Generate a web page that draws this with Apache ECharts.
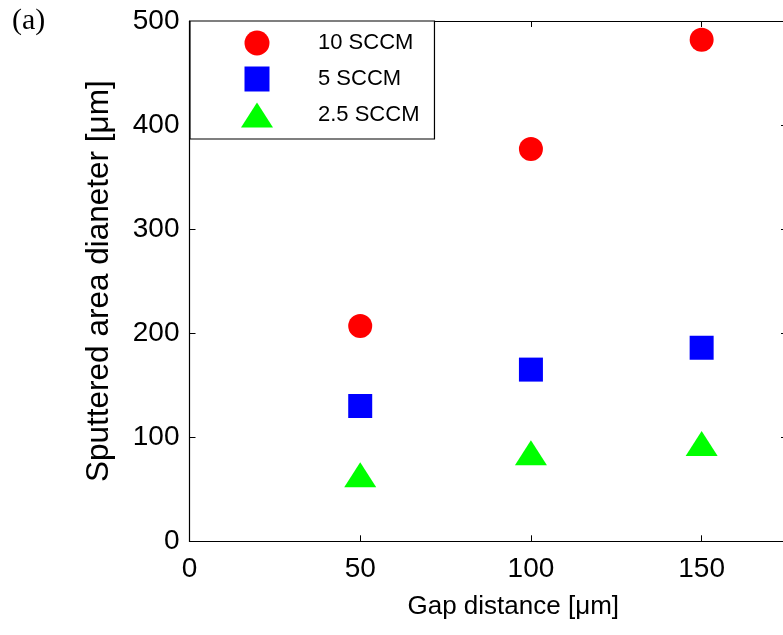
<!DOCTYPE html>
<html>
<head>
<meta charset="utf-8">
<script src="https://cdn.jsdelivr.net/npm/echarts@6/dist/echarts.min.js"></script>
<style>
  html, body { margin: 0; padding: 0; background: #fff; }
  #chart { width: 783px; height: 635px; }
</style>
</head>
<body>
<div id="chart"></div>
<script>
// Gap distance [μm] for each measurement
const gapDistance = [50, 100, 150];
// Sputtered area diameter [μm] per gas flow rate
const flow10 = [207, 377, 482];
const flow5 = [130, 165, 186];
const flow2p5 = [64, 85, 94];
const seriesNames = ['10 SCCM', '5 SCCM', '2.5 SCCM'];
const xTicks = [0, 50, 100, 150];
const yTicks = [0, 100, 200, 300, 400, 500];

const FONT = "'Liberation Sans', Arial, sans-serif";
const pairs = ys => gapDistance.map((x, i) => [x, ys[i]]);
const TRI = 'path://M16,0L32,25L0,25Z';
const SQUARE = 'path://M0,0L24,0L24,24L0,24Z';

const chart = echarts.init(document.getElementById('chart'), null, { renderer: 'canvas' });

const tickCommon = { show: true, inside: true, length: 6, lineStyle: { color: '#000', width: 1 } };
const lineCommon = { show: true, onZero: false, lineStyle: { color: '#000', width: 1.2 } };

chart.setOption({
  animation: false,
  backgroundColor: '#fff',
  grid: { left: 189.5, top: 21, width: 597.5, height: 520.3, containLabel: false, outerBoundsMode: 'none' },
  graphic: [{
    type: 'text', left: 12, top: 6,
    style: { text: '(a)', font: "30px 'Liberation Serif', 'Times New Roman', serif", fill: '#000' }
  }],
  legend: {
    orient: 'vertical',
    left: 190, top: 21,
    // icons sit centred in a wide slot; the left padding compensates for the empty part of the slot
    padding: [9.5, 15, 11.5, 51],
    itemWidth: 112, itemHeight: 25, itemGap: 11,
    symbolKeepAspect: true,
    backgroundColor: '#fff',
    borderColor: '#000', borderWidth: 1.2, borderRadius: 0,
    textStyle: { fontFamily: FONT, fontSize: 22, color: '#000', lineHeight: 25 },
    data: [
      { name: seriesNames[0], icon: 'circle' },
      { name: seriesNames[1], icon: SQUARE },
      { name: seriesNames[2], icon: TRI }
    ]
  },
  xAxis: [{
    type: 'value', position: 'bottom', min: 0, max: 175, interval: 50,
    axisLine: lineCommon, axisTick: tickCommon, splitLine: { show: false },
    axisLabel: {
      fontFamily: FONT, fontSize: 28, color: '#000', margin: 14,
      formatter: v => (xTicks.includes(v) ? String(v) : '')
    },
    name: 'Gap distance [\u03bcm]', nameLocation: 'middle', nameGap: 53,
    nameTextStyle: { fontFamily: FONT, fontSize: 26, color: '#000', padding: [0, 0, 0, 50] }
  }, {
    type: 'value', position: 'top', min: 0, max: 175, interval: 50,
    axisLine: lineCommon, axisTick: tickCommon, axisLabel: { show: false }, splitLine: { show: false }
  }],
  yAxis: [{
    type: 'value', position: 'left', min: 0, max: 500, interval: 100,
    axisLine: lineCommon, axisTick: tickCommon, splitLine: { show: false },
    axisLabel: {
      fontFamily: FONT, fontSize: 28, color: '#000', margin: 10,
      formatter: v => (yTicks.includes(v) ? String(v) : '')
    },
    name: 'Sputtered area dianeter [\u03bcm]', nameLocation: 'middle', nameGap: 74,
    nameTextStyle: { fontFamily: FONT, fontSize: 31.5, color: '#000' }
  }, {
    type: 'value', position: 'right', min: 0, max: 500, interval: 100,
    axisLine: lineCommon, axisTick: tickCommon, axisLabel: { show: false }, splitLine: { show: false }
  }],
  series: [{
    name: seriesNames[0], type: 'scatter', symbol: 'circle', symbolSize: 24,
    itemStyle: { color: '#ff0000', opacity: 1 }, data: pairs(flow10)
  }, {
    name: seriesNames[1], type: 'scatter', symbol: 'rect', symbolSize: 24,
    itemStyle: { color: '#0000ff', opacity: 1 }, data: pairs(flow5)
  }, {
    name: seriesNames[2], type: 'scatter', symbol: TRI, symbolSize: [32, 25], symbolKeepAspect: false,
    itemStyle: { color: '#00ff00', opacity: 1 }, data: pairs(flow2p5)
  }]
});
</script>
</body>
</html>
